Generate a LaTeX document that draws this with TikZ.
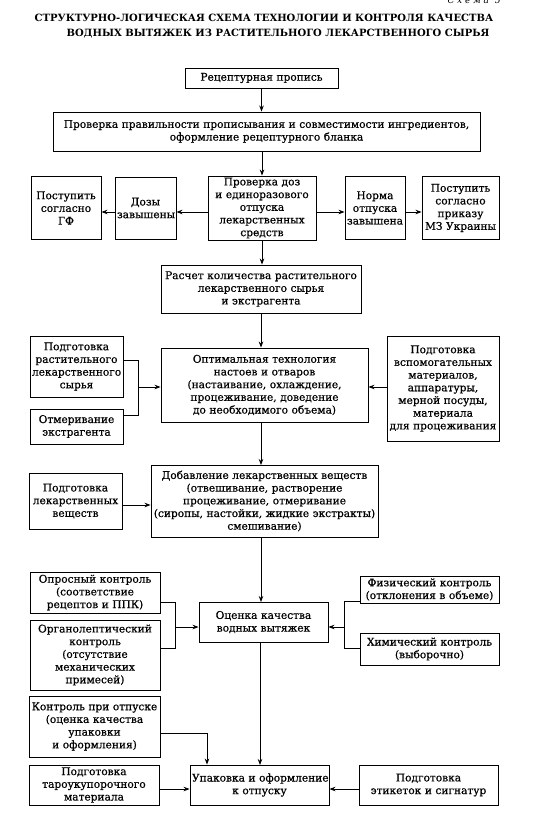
\documentclass[tikz,border=0pt]{standalone}
\usepackage{fontspec}
\setmainfont{DejaVu Serif}[WordSpace=1.35,FakeBold=0.6]
\newfontfamily\ttlfam{DejaVu Serif}
\usetikzlibrary{arrows.meta}
\newcommand{\bxfont}{\fontsize{10.6}{12.7}\selectfont}
\newcommand{\ttlfont}{\ttlfam\fontsize{10}{13}\selectfont\bfseries}
\begin{document}
\begin{tikzpicture}[x=1pt,y=-1pt,
  box/.style={draw, line width=0.9pt, align=center, inner sep=1pt, font=\bxfont},
  arr/.style={-{Stealth[length=6pt,width=4.5pt]}, line width=0.8pt},
  ln/.style={line width=0.8pt}]
\useasboundingbox[fill=white] (0,0) rectangle (541,816);

\node[font=\ttlfont] (t1) at (264,18) {СТРУКТУРНО-ЛОГИЧЕСКАЯ СХЕМА ТЕХНОЛОГИИ И КОНТРОЛЯ КАЧЕСТВА};
\node[font=\ttlfont] (t2) at (278,34) {ВОДНЫХ ВЫТЯЖЕК ИЗ РАСТИТЕЛЬНОГО ЛЕКАРСТВЕННОГО СЫРЬЯ};
\node[font=\ttlfam\fontsize{9}{10}\selectfont\itshape] (sch) at (474,0.5) {С х е м а\ \ 5};

\node[box, minimum width=153, minimum height=20, text width=149] (recipe) at (261.5,78) {Рецептурная пропись};
\node[box, minimum width=427, minimum height=39, text width=423] (check) at (266.5,131.5) {Проверка правильности прописывания и совместимости ингредиентов,\\ оформление рецептурного бланка};
\node[box, minimum width=108, minimum height=64, text width=104] (dose) at (262,208) {Проверка доз\\ и единоразового\\ отпуска\\ лекарственных\\ средств};
\node[box, minimum width=61, minimum height=62, text width=57] (high) at (145.5,208) {Дозы\\ завышены};
\node[box, minimum width=70, minimum height=63, text width=66] (gf) at (66,208) {Поступить\\ согласно\\ ГФ};
\node[box, minimum width=60, minimum height=63, text width=56] (norm) at (375,208) {Норма\\ отпуска\\ завышена};
\node[box, minimum width=77, minimum height=63, text width=73] (mz) at (460.5,208) {Поступить\\ согласно\\ приказу\\ МЗ Украины};

\node[box, minimum width=200, minimum height=48, text width=196] (calc) at (261,289) {Расчет количества растительного\\ лекарственного сырья\\ и экстрагента};
\node[box, minimum width=207, minimum height=74, text width=203] (opt) at (264.5,385) {Оптимальная технология\\ настоев и отваров\\ (настаивание, охлаждение,\\ процеживание, доведение\\ до необходимого объема)};
\node[box, minimum width=93, minimum height=61, text width=89] (prep1) at (76.5,366.5) {Подготовка\\ растительного\\ лекарственного\\ сырья};
\node[box, minimum width=93, minimum height=35, text width=89] (meas) at (76.5,426.5) {Отмеривание\\ экстрагента};
\node[box, minimum width=112, minimum height=105, text width=108] (aux) at (443,388.5) {Подготовка\\ вспомогательных\\ материалов,\\ аппаратуры,\\ мерной посуды,\\ материала\\ для процеживания};

\node[box, minimum width=227, minimum height=72, text width=223] (add) at (264.5,501) {Добавление лекарственных веществ\\ (отвешивание, растворение\\ процеживание, отмеривание\\ (сиропы, настойки, жидкие экстракты)\\ смешивание)};
\node[box, minimum width=93, minimum height=56, text width=89] (prepd) at (75.5,501) {Подготовка\\ лекарственных\\ веществ};

\node[box, minimum width=129, minimum height=40, text width=125] (qual) at (263.5,622) {Оценка качества\\ водных вытяжек};
\node[box, minimum width=130, minimum height=41, text width=126] (opros) at (95,592.5) {Опросный контроль\\ (соответствие\\ рецептов и ППК)};
\node[box, minimum width=130, minimum height=70, text width=126] (organo) at (95,655) {Органолептический\\ контроль\\ (отсутствие\\ механических\\ примесей)};
\node[box, minimum width=139, minimum height=27, text width=135] (phys) at (429.5,589.5) {Физический контроль\\ (отклонения в объеме)};
\node[box, minimum width=139, minimum height=32, text width=135] (chem) at (429.5,649) {Химический контроль\\ (выборочно)};

\node[box, minimum width=131, minimum height=61, text width=127] (release) at (94.5,726.5) {Контроль при отпуске\\ (оценка качества\\ упаковки\\ и оформления)};
\node[box, minimum width=139, minimum height=40, text width=135] (pack) at (259.5,785) {\mbox{Упаковка и оформление}\\ к отпуску};
\node[box, minimum width=130, minimum height=40, text width=126] (tara) at (94,785) {Подготовка\\ тароукупорочного\\ материала};
\node[box, minimum width=139, minimum height=40, text width=135] (label) at (428.5,785) {Подготовка\\ этикеток и сигнатур};

% main flow
\draw[arr] (recipe.south) -- (recipe.south |- check.north);
\draw[arr] (dose.north |- check.south) -- (dose.north);
\draw[arr] ([yshift=-4pt]dose.west) -- ([yshift=-4pt]high.east);
\draw[arr] ([yshift=-4pt]high.west) -- ([yshift=-4pt]gf.east);
\draw[arr] ([yshift=-4pt]dose.east) -- ([yshift=-4pt]norm.west);
\draw[arr] ([yshift=-4pt]norm.east) -- ([yshift=-4pt]mz.west);
\draw[arr] (dose.south) -- (dose.south |- calc.north);
\draw[arr] (calc.south) -- (calc.south |- opt.north);

\coordinate (j1) at (138,387);
\draw[ln] (prep1.east |- 0,360) -| (j1);
\draw[ln] (meas.east |- 0,415) -| (j1);
\draw[arr] (j1) -- (j1 -| opt.west);
\draw[arr] (aux.west |- 0,387) -- (opt.east |- 0,387);

\draw[arr] (261,422) -- (261,465);
\draw[arr] ([yshift=-4pt]prepd.east) -- ([yshift=-4pt]prepd.east -| add.west);
\draw[arr] (261,537) -- (261,602);

\coordinate (j2) at (175,627);
\draw[ln] (opros.east |- 0,602) -| (j2);
\draw[ln] (organo.east |- 0,648) -| (j2);
\draw[arr] (j2) -- (j2 -| qual.west);
\coordinate (j3) at (344,627);
\draw[ln] (phys.west |- 0,601) -| (j3);
\draw[ln] (chem.west |- 0,648) -| (j3);
\draw[arr] (j3) -- (j3 -| qual.east);

\draw[arr] (260,642) -- (260,765);
\coordinate (j4) at (207,733);
\draw[arr] (release.east |- j4) -- (j4) -- (j4 |- pack.north);
\draw[arr] (tara.east |- 0,789) -- (pack.west |- 0,789);
\draw[arr] (label.west |- 0,789) -- (pack.east |- 0,789);
\end{tikzpicture}
\end{document}
